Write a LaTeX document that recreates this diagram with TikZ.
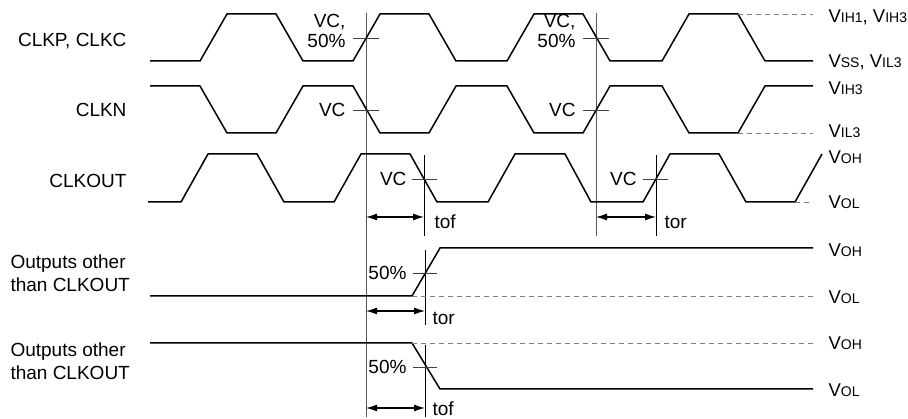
\documentclass[tikz,border=0pt]{standalone}
\usepackage{fontspec}
\setmainfont{Liberation Sans}
\usetikzlibrary{arrows.meta, positioning}

\newcommand{\lab}{\fontsize{19}{20}\selectfont}
\newcommand{\labtwo}{\fontsize{19}{23}\selectfont}
\newcommand{\lablv}{\fontsize{18.5}{20}\selectfont}
\newcommand{\vlev}[1]{V{\fontsize{14}{14}\selectfont #1}}

\begin{document}
\begin{tikzpicture}[x=1pt, y=-1pt, font=\lab,
  wave/.style={line width=1.5pt},
  guide/.style={gray!70!black, line width=0.9pt},
  edge/.style={black, line width=0.8pt},
  cross/.style={black!75, line width=0.8pt},
  lvl/.style={gray, line width=0.9pt, dash pattern=on 5pt off 4pt},
  span/.style={{Latex[length=11pt,width=7pt]}-{Latex[length=11pt,width=7pt]}, line width=1.1pt},
  sig/.style={anchor=base east},
  lv/.style={anchor=base west, yshift=-6.5pt, font=\lablv}]
\useasboundingbox (0,0) rectangle (908,419);

% Signal names
\node[sig] (clkp) at (130,47) {CLKP, CLKC};
\node[sig] (clkn) at (130,117) {CLKN};
\node[sig] (clkout) at (130,188) {CLKOUT};
\node[anchor=west, align=left, font=\labtwo] (outr) at (7,273) {Outputs other\\than CLKOUT};
\node[anchor=west, align=left, font=\labtwo] (outf) at (7,361) {Outputs other\\than CLKOUT};

% Reference lines
\draw[guide] (366,13) -- (366,417);
\draw[guide] (596,13) -- (596,236);
\draw[edge] (424,155) -- (424,236);
\draw[edge] (656,155) -- (656,236);
\draw[edge] (425,250) -- (425,325);
\draw[edge] (425,345) -- (425,417);

% CLKP, CLKC
\draw[wave] (150,61) -- (200,61) -- (227,14) -- (276,14) -- (303,61) -- (353,61)
  -- (380,14) -- (429,14) -- (456,61) -- (507,61) -- (534,14) -- (583,14)
  -- (610,61) -- (662,61) -- (689,14) -- (738,14) -- (765,61) -- (813,61);
\draw[lvl] (738,14) -- (813,14);

% CLKN
\draw[wave] (150,86) -- (200,86) -- (227,133) -- (276,133) -- (303,86) -- (353,86)
  -- (380,133) -- (429,133) -- (456,86) -- (507,86) -- (534,133) -- (583,133)
  -- (610,86) -- (662,86) -- (689,133) -- (738,133) -- (765,86) -- (813,86);
\draw[lvl] (738,133) -- (813,133);

% CLKOUT
\draw[wave] (148,202) -- (181,202) -- (208,154) -- (257,154) -- (284,202) -- (334,202)
  -- (361,154) -- (410,154) -- (437,202) -- (488,202) -- (515,154) -- (565,154)
  -- (591,202) -- (643,202) -- (670,154) -- (719,154) -- (746,202) -- (795,202)
  -- (822,154);
\draw[lvl] (795,202) -- (813,202);

% Outputs, rising
\draw[wave] (150,296) -- (412,296) -- (440,248) -- (813,248);
\draw[lvl] (412,296) -- (813,296);

% Outputs, falling
\draw[wave] (150,343) -- (412,343) -- (440,389) -- (813,389);
\draw[lvl] (412,343) -- (813,343);

% Crossing marks
\draw[cross] (353,38) -- (379,38);
\draw[cross] (583,38) -- (609,38);
\draw[cross] (353,110) -- (379,110);
\draw[cross] (583,110) -- (609,110);
\draw[cross] (412,179) -- (437,179);
\draw[cross] (643,179) -- (668,179);
\draw[cross] (413,273) -- (437,273);
\draw[cross] (413,367) -- (437,367);

\node[anchor=east, align=right] (vcp1) at (349,31) {VC,\\50\%};
\node[anchor=east, align=right] (vcp2) at (579,31) {VC,\\50\%};
\node[anchor=east] (vcn1) at (349,110) {VC};
\node[anchor=east] (vcn2) at (579,110) {VC};
\node[anchor=east] (vco1) at (410,179) {VC};
\node[anchor=east] (vco2) at (640,179) {VC};
\node[anchor=east] (half1) at (410,273) {50\%};
\node[anchor=east] (half2) at (410,367) {50\%};

% Delays
\draw[span] (366,217) -- (424,217);
\draw[span] (596,217) -- (656,217);
\draw[span] (366,311) -- (425,311);
\draw[span] (366,408) -- (425,408);
\node[anchor=west] (tof1) at (431,222) {tof};
\node[anchor=west] (tor1) at (661,222) {tor};
\node[anchor=west] (tor2) at (429,318) {tor};
\node[anchor=west] (tof2) at (429,409) {tof};

% Levels
\node[lv] (vih) at (825,16) {\vlev{IH1}, \vlev{IH3}};
\node[lv] (vss) at (825,61) {\vlev{SS}, \vlev{IL3}};
\node[lv] (vih3) at (825,88) {\vlev{IH3}};
\node[lv] (vil3) at (825,131) {\vlev{IL3}};
\node[lv] (voh1) at (825,157) {\vlev{OH}};
\node[lv] (vol1) at (825,202) {\vlev{OL}};
\node[lv] (voh2) at (825,250) {\vlev{OH}};
\node[lv] (vol2) at (825,297) {\vlev{OL}};
\node[lv] (voh3) at (825,343) {\vlev{OH}};
\node[lv] (vol3) at (825,390) {\vlev{OL}};
\end{tikzpicture}
\end{document}
